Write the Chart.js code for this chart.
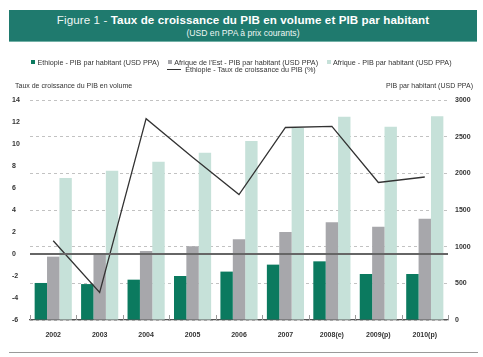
<!DOCTYPE html>
<html>
<head>
<meta charset="utf-8">
<script src="https://cdn.jsdelivr.net/npm/chart.js@4.4.1/dist/chart.umd.min.js"></script>
<style>
  html, body { margin:0; padding:0; background:#fff; }
  body { width:483px; height:357px; position:relative; overflow:hidden; font-family:"Liberation Sans", Arial, sans-serif; }
  #c { position:absolute; left:0; top:0; }
  .band { position:absolute; left:9px; top:10px; width:468px; height:31px; background:#1f7a6e; border-bottom:1px solid #72b0a6; color:#fff; text-align:center; }
  .t1 { position:absolute; left:0; right:0; top:3px; font-size:11.6px; line-height:14px; letter-spacing:0.1px; }
  .t1 .f { font-weight:normal; color:#eef6f4; }
  .t1 b { font-weight:bold; }
  .t2 { position:absolute; left:0; right:0; top:18px; font-size:8.6px; line-height:10px; color:#eef6f4; }
  .leg { position:absolute; left:0; width:483px; display:flex; justify-content:center; align-items:center; font-size:7.2px; color:#333; white-space:nowrap; }
  .item { display:flex; align-items:center; margin:0 4.5px; }
  .sq { width:4px; height:4px; margin-right:2px; }
  .ln { width:14px; height:0; border-top:1.3px solid #333; margin-right:4px; }
  .ax { position:absolute; top:82px; font-size:7px; color:#333; white-space:nowrap; }
  .rule { position:absolute; left:9px; width:469px; top:352px; height:0; border-top:1px solid #9a9a9a; }
</style>
</head>
<body>
<canvas id="c" width="483" height="357"></canvas>
<div class="band">
  <div class="t1"><span class="f">Figure 1 - </span><b>Taux de croissance du PIB en volume et PIB par habitant</b></div>
  <div class="t2">(USD en PPA à prix courants)</div>
</div>
<div class="leg" style="top:58px;height:8px;">
  <div class="item"><span class="sq" style="background:#0b7a5f"></span>Ethiopie - PIB par habitant (USD PPA)</div>
  <div class="item"><span class="sq" style="background:#a7a7ab"></span>Afrique de l'Est - PIB par habitant (USD PPA)</div>
  <div class="item"><span class="sq" style="background:#c6e1d9"></span>Afrique - PIB par habitant (USD PPA)</div>
</div>
<div class="leg" style="top:65.5px;height:8px;">
  <div class="item"><span class="ln"></span>Ethiopie - Taux de croissance du PIB (%)</div>
</div>
<div class="ax" style="left:15px;">Taux de croissance du PIB en volume</div>
<div class="ax" style="right:10px;">PIB par habitant (USD PPA)</div>
<div class="rule"></div>
<script>
const years = ['2002','2003','2004','2005','2006','2007','2008(e)','2009(p)','2010(p)'];
const ethiopiaGdpPc = [505, 490, 550, 600, 660, 755, 800, 627, 627];
const eastAfricaGdpPc = [864, 900, 941, 1005, 1100, 1200, 1332, 1273, 1382];
const africaGdpPc = [1936, 2036, 2159, 2282, 2441, 2618, 2773, 2636, 2777];
const ethiopiaGrowth = [1.2, -3.5, 12.3, 8.8, 5.4, 11.5, 11.6, 6.5, 7.0];
const leftTicks = {min: -6, max: 14, step: 2};
const rightTicks = {min: 0, max: 3000, step: 500};

const FONT = "'Liberation Sans', Arial, sans-serif";

const boundaryTicks = {
  id: 'boundaryTicks',
  afterDatasetsDraw(chart) {
    const x = chart.scales.x;
    const n = chart.data.labels.length;
    const ctx = chart.ctx;
    ctx.save();
    ctx.strokeStyle = '#999';
    ctx.lineWidth = 1;
    for (let i = 0; i <= n; i++) {
      const px = Math.round(x.left + i * x.width / n) + 0.5;
      ctx.beginPath();
      ctx.moveTo(px, x.top);
      ctx.lineTo(px, x.top - 5);
      ctx.stroke();
    }
    ctx.restore();
  }
};

new Chart(document.getElementById('c'), {
  data: {
    labels: years,
    datasets: [
      { type:'bar', label:'Ethiopie - PIB par habitant (USD PPA)', data: ethiopiaGdpPc, backgroundColor:'#0b7a5f', yAxisID:'yR', order:1, categoryPercentage:0.8, barPercentage:1.0 },
      { type:'bar', label:"Afrique de l'Est - PIB par habitant (USD PPA)", data: eastAfricaGdpPc, backgroundColor:'#a7a7ab', yAxisID:'yR', order:1, categoryPercentage:0.8, barPercentage:1.0 },
      { type:'bar', label:'Afrique - PIB par habitant (USD PPA)', data: africaGdpPc, backgroundColor:'#c6e1d9', yAxisID:'yR', order:1, categoryPercentage:0.8, barPercentage:1.0 },
      { type:'line', label:'Ethiopie - Taux de croissance du PIB (%)', data: ethiopiaGrowth, borderColor:'#333', borderWidth:1.3, pointRadius:0, tension:0, fill:false, yAxisID:'yL', order:0 }
    ]
  },
  options: {
    responsive:false,
    animation:false,
    devicePixelRatio:1,
    layout: { padding: { top:100, left:12, right:0, bottom:0 } },
    plugins: { legend:{display:false}, title:{display:false}, tooltip:{enabled:false} },
    scales: {
      x: {
        offset:true,
        grid:{ display:false, drawTicks:false },
        border:{ display:true, color:'#555', width:1.3 },
        ticks:{ padding:11, color:'#333', font:{ family:FONT, size:7, weight:'bold' }, maxRotation:0, autoSkip:false },
        afterFit(s){ s.height = 37; }
      },
      yL: {
        position:'left',
        min:leftTicks.min, max:leftTicks.max,
        ticks:{ stepSize:leftTicks.step, crossAlign:'far', color:'#333', font:{ family:FONT, size:7, weight:'bold' } },
        grid:{ z:1, drawTicks:false, lineWidth:2, color:(c)=> (c.tick && c.tick.value === 0) ? '#666' : 'rgba(0,0,0,0)' },
        border:{ display:false },
        afterFit(s){ s.width = 18; }
      },
      yR: {
        position:'right',
        min:rightTicks.min, max:rightTicks.max,
        ticks:{ stepSize:rightTicks.step, padding:7, color:'#333', font:{ family:FONT, size:7, weight:'bold' }, callback:(v)=> String(v) },
        grid:{ drawTicks:false, color:'#c2c2c2', lineWidth:1 },
        border:{ display:false, dash:[3,3] },
        afterFit(s){ s.width = 35; }
      }
    }
  },
  plugins:[boundaryTicks]
});
</script>
</body>
</html>
